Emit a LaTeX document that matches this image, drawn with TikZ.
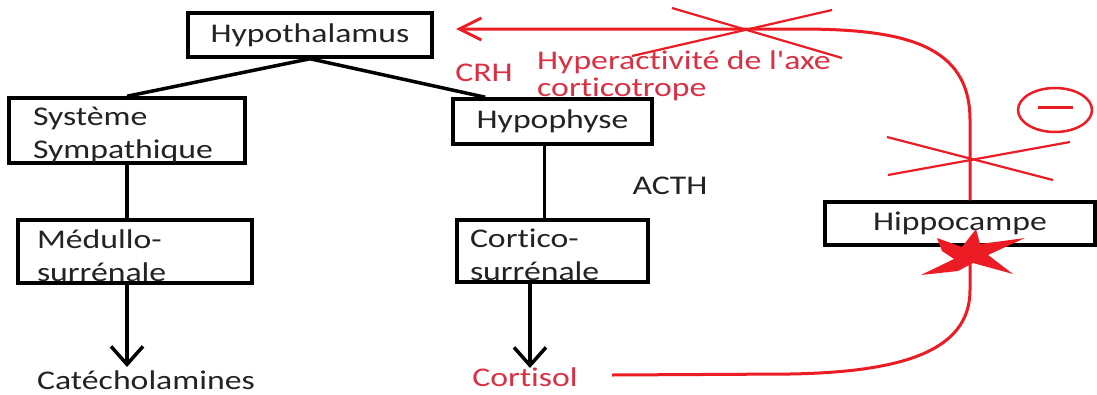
\documentclass[tikz,border=0pt]{standalone}
\usepackage{fontspec}
\setmainfont{Carlito}[FakeStretch=1.25, Ligatures={TeXOff,CommonOff}]
\usetikzlibrary{arrows.meta,calc}
\definecolor{alarm}{RGB}{236,28,36}
\definecolor{alarmtext}{RGB}{218,48,68}
\definecolor{ink}{RGB}{35,35,35}
\begin{document}
\begin{tikzpicture}[x=1pt,y=-1pt,
  font=\fontsize{27}{33}\selectfont,
  organ/.style={draw=black, line width=3.5pt, inner sep=0pt, text=ink},
  twoline/.style={text width=#1, align=left, execute at begin node={\rule{0pt}{27pt}}},
  link/.style={line width=3.5pt, black},
  down/.style={link, -{Straight Barb[length=18pt,width=32pt,line width=3.5pt]}},
  feedback/.style={alarm, line width=3pt},
  cross/.style={alarm, line width=2.2pt},
  redlabel/.style={text=alarmtext, inner sep=0pt},
  blacklabel/.style={text=ink, inner sep=0pt}]

\fill[white] (0,0) rectangle (1097,394);
\useasboundingbox (0,0) rectangle (1097,394);

% organ boxes
\node[organ, minimum width=244pt, minimum height=44pt] (hyp) at (310,35) {Hypothalamus};
\node[organ, minimum width=236pt, minimum height=65pt, twoline=188pt] (sys) at (127,130.5) {Système\\Sympathique};
\node[organ, minimum width=199pt, minimum height=45pt] (hypo) at (552.5,121.5) {Hypophyse};
\node[organ, minimum width=234pt, minimum height=63pt, twoline=196pt] (med) at (135,251.5) {Médullo-\\surrénale};
\node[organ, minimum width=191pt, minimum height=62pt, twoline=165pt] (cort) at (552.5,251) {Cortico-\\surrénale};
\node[organ, minimum width=270pt, minimum height=43pt] (hippo) at (960,223.5) {Hippocampe};

% hormone labels
\node[redlabel] (crh) at (484,73) {CRH};
\node[blacklabel] (acth) at (670,186) {ACTH};
\node[blacklabel] (cat) at (146,380) {Catécholamines};
\node[redlabel] (cortisol) at (525,377) {Cortisol};
\node[redlabel, anchor=north west, align=left, font=\fontsize{27}{27}\selectfont] (hyper) at (537,51) {Hyperactivité de l'axe\\corticotrope};

% axis connectors
\draw[link] (hyp.south) -- (sys.north);
\draw[link] (hyp.south) -- ([xshift=34pt]hypo.north west);
\draw[link] (sys.south) -- (sys.south |- med.north);
\coordinate (catTip) at (127,367);
\draw[down] (catTip |- med.south) -- (catTip);
\draw[link] ([xshift=-8pt]hypo.south) -- ([xshift=-8pt]cort.north);
\coordinate (cortTip) at (530,368);
\draw[down] (cortTip |- cort.south) -- (cortTip);

% cortisol feedback onto the hippocampus
\coordinate (fbStart) at (612,375);
\coordinate (hipIn) at (970,262);
\draw[feedback] (fbStart) -- (790,374) .. controls (905,372) and (970,350) .. (970,290) -- (hipIn);

% inhibited hippocampal control of the hypothalamus
\coordinate (hipOut) at ([xshift=10pt]hippo.north);
\coordinate (fbTip) at (456,29);
\draw[feedback, -{Straight Barb[length=22pt,width=22pt,line width=3pt]}]
  (hipOut) -- (970,120) .. controls (970,45) and (905,29) .. (800,29) -- (fbTip);

% blocking crosses
\draw[cross] (672,8) -- (842,58);
\draw[cross] (832,10) -- (632,56);
\draw[cross] (887,137) -- (1053,180);
\draw[cross] (1070,142) -- (888,175);

% inhibition sign
\draw[alarm, line width=2.5pt] (1055,110) ellipse [x radius=37pt, y radius=22pt];
\draw[alarm, line width=3pt] (1038,107) -- (1073,107);

% lesion mark on the hippocampus
\fill[alarm] (937,238) -- (962,247) -- (976,229) -- (980,244) -- (1025,238)
  -- (988,255) -- (1013,274) -- (973,263) -- (958,271) -- (921,275)
  -- (954,259) -- (942,251) -- cycle;
\end{tikzpicture}
\end{document}
